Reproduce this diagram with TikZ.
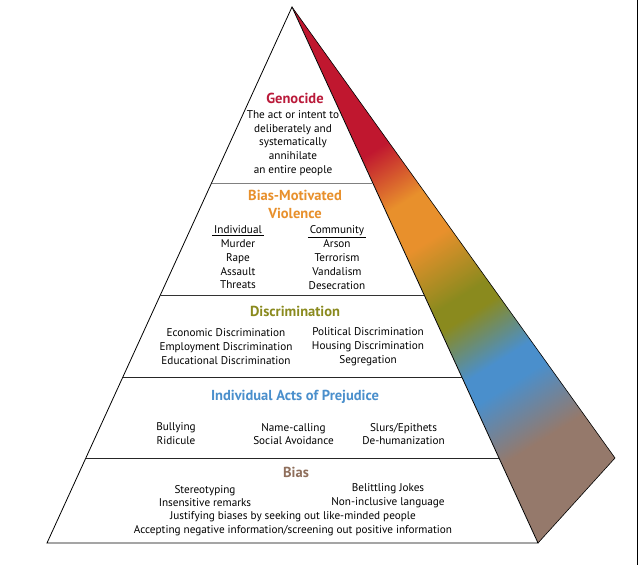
\documentclass[tikz,border=0pt]{standalone}
\usepackage{fontspec}
\setmainfont{PT Sans}
\usetikzlibrary{calc}

\definecolor{genred}{HTML}{BA1A3A}
\definecolor{violorange}{HTML}{E8902C}
\definecolor{discolive}{HTML}{8A8A1E}
\definecolor{prejblue}{HTML}{4A8FCC}
\definecolor{biasbrown}{HTML}{8F6F5C}
\definecolor{shadered}{HTML}{C0172F}
\definecolor{shadebrown}{HTML}{95796B}

\pgfdeclarehorizontalshading{sideband}{100bp}{%
  color(0bp)=(shadered); color(39.1bp)=(shadered);
  color(44.2bp)=(violorange); color(48.1bp)=(violorange);
  color(53.6bp)=(discolive); color(55.3bp)=(discolive);
  color(60bp)=(prejblue); color(62.2bp)=(prejblue);
  color(67.7bp)=(shadebrown); color(100bp)=(shadebrown)}

\begin{document}
\begin{tikzpicture}[x=1pt, y=1pt,
  font=\fontsize{11.2}{13.8}\selectfont,
  layer/.style={line width=0.7pt},
  ttl/.style={font=\fontsize{14.5}{18}\selectfont\bfseries, align=center},
  txt/.style={align=center, inner sep=1pt}
]
\useasboundingbox (0,0) rectangle (640,565);
\coordinate (apex) at (292,558);
\coordinate (bl)   at (47,22);
\coordinate (br)   at (538,22);
\coordinate (tip)  at (615,107);

\begin{scope}
  \clip (apex) -- (tip) -- (br) -- cycle;
  \begin{scope}[transform canvas={shift={(apex)}, rotate=-58}]
    \shade[shading=sideband] (0,-200) rectangle (585,200);
  \end{scope}
\end{scope}
\draw[line width=0.6pt] (apex) -- (tip) -- (br);
\draw[fill=white, line width=0.8pt] (apex) -- (bl) -- (br) -- cycle;

\foreach \t/\c [count=\i] in {0.3284/gray, 0.5382/black!80, 0.6903/black!85, 0.8414/black!85}{
  \coordinate (l\i) at ($(apex)!\t!(bl)$);
  \coordinate (r\i) at ($(apex)!\t!(br)$);
  \draw[layer, draw=\c] (l\i) -- (r\i);
}
\draw[line width=1.6pt] (637.5,0) -- (637.5,565);

\node[ttl, text=genred] (geno) at (295,467) {Genocide};
\node[txt] (genotxt) at (293,422)
  {The act or intent to\\deliberately and\\systematically\\annihilate\\an entire people};
\node[ttl, text=violorange] (viol) at (295,361) {Bias-Motivated\\Violence};
\node[txt] (indiv) at (238,307.5)
  {\underline{\,Individual\,}\\Murder\\Rape\\Assault\\Threats};
\node[txt] (commu) at (337,307.5)
  {\underline{\,Community\,}\\Arson\\Terrorism\\Vandalism\\Desecration};
\node[ttl, text=discolive] (disc) at (295,254) {Discrimination};
\node[txt] (discl) at (226,218.3)
  {Economic Discrimination\\Employment Discrimination\\Educational Discrimination};
\node[txt] (discr) at (368,218.3)
  {Political Discrimination\\Housing Discrimination\\Segregation};
\node[ttl, text=prejblue] (prej) at (295,168) {Individual Acts of Prejudice};
\node[txt] (prejl) at (176,131) {Bullying\\Ridicule};
\node[txt] (prejm) at (293.5,131) {Name-calling\\Social Avoidance};
\node[txt] (prejr) at (403.5,131) {Slurs/Epithets\\De-humanization};
\node[ttl, text=biasbrown] (bias) at (296,93) {Bias};
\node[txt] (biasl) at (205,69) {Stereotyping\\Insensitive remarks};
\node[txt] (biasr) at (388,69) {Belittling Jokes\\Non-inclusive language};
\node[txt] (biasb) at (293,41.5)
  {Justifying biases by seeking out like-minded people\\Accepting negative information/screening out positive information};
\end{tikzpicture}
\end{document}
